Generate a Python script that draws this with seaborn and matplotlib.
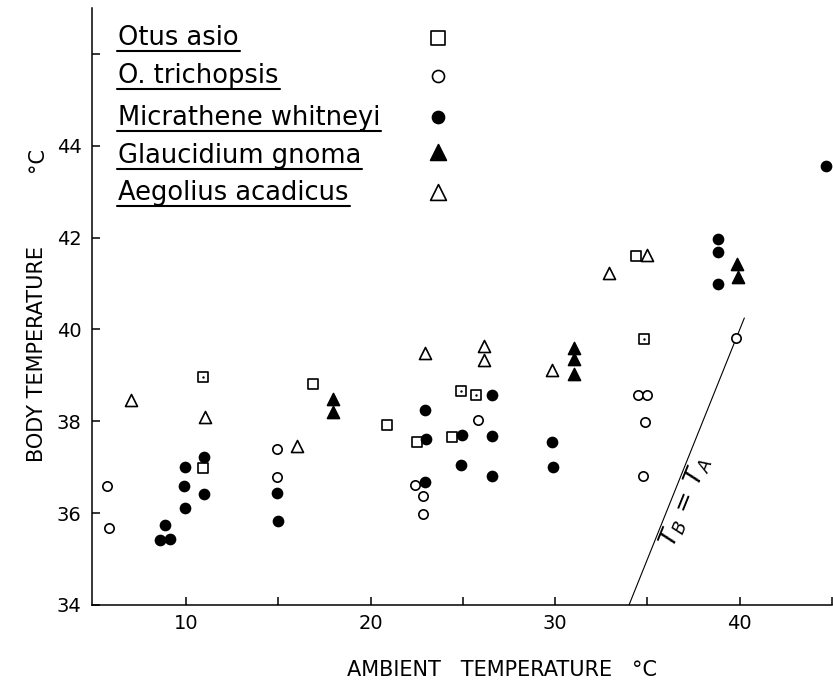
import matplotlib
matplotlib.use("Agg")
import matplotlib.pyplot as plt
import seaborn as sns
from matplotlib.lines import Line2D

# 数据：从原图读取 (环境温度, 体温)
species = ["Otus asio", "O. trichopsis", "Micrathene whitneyi",
           "Glaucidium gnoma", "Aegolius acadicus"]

asio_x = [10.9, 10.9, 16.9, 20.9, 22.5, 24.4, 24.9, 25.7, 34.4, 34.8]
asio_y = [38.96, 36.98, 38.82, 37.91, 37.55, 37.65, 38.65, 38.57, 41.61, 39.80]
asio_dot = [True, False, False, False, False, False, True, True, False, True]

trich_x = [5.7, 5.8, 14.9, 14.9, 22.4, 22.85, 22.85, 25.8, 34.5, 35.0, 34.85, 34.75, 39.8]
trich_y = [36.60, 35.67, 37.39, 36.78, 36.62, 36.38, 35.98, 38.02, 38.58, 38.58, 37.98, 36.80, 39.82]

micr_x = [8.85, 8.6, 9.15, 9.95, 9.9, 9.95, 10.95, 10.95, 14.95, 15.0,
          22.95, 23.0, 22.95, 24.95, 24.9, 26.6, 26.6, 26.6, 29.85, 29.9,
          38.8, 38.8, 38.8, 44.7]
micr_y = [35.75, 35.41, 35.43, 37.00, 36.60, 36.12, 37.22, 36.41, 36.43, 35.84,
          38.24, 37.62, 36.68, 37.71, 37.04, 38.58, 37.67, 36.80, 37.55, 37.00,
          41.98, 41.68, 41.00, 43.55]

glau_x = [17.95, 17.95, 31.0, 31.0, 31.0, 39.85, 39.9]
glau_y = [38.48, 38.20, 39.60, 39.36, 39.02, 41.43, 41.14]

aego_x = [7.0, 11.0, 16.0, 22.95, 26.15, 26.15, 29.85, 32.9, 35.0]
aego_y = [38.46, 38.09, 37.46, 39.48, 39.64, 39.34, 39.11, 41.22, 41.62]

# T_B = T_A 线
line_x = [34.0, 40.25]
line_y = [34.0, 40.25]

xticks = [10, 15, 20, 25, 30, 35, 40, 45]
xtick_labels = ["10", "", "20", "", "30", "", "40", ""]
yticks = [34, 36, 38, 40, 42, 44, 46]
ytick_labels = ["34", "36", "38", "40", "42", "44", ""]

W, H = 833, 681

sns.set_theme(style="ticks")
plt.rcParams['font.family'] = ['DejaVu Sans']
plt.rcParams.update({"text.color": "black", "axes.labelcolor": "black",
                     "xtick.color": "black", "ytick.color": "black"})

fig = plt.figure(figsize=(W / 100, H / 100), dpi=100)
ax = fig.add_axes([92 / W, 1 - 605 / H, (832 - 92) / W, (605 - 8) / H])

# 每个物种的标记样式
styles = [
    ("s", "white", 52),
    ("o", "white", 45),
    ("o", "black", 52),
    ("^", "black", 75),
    ("^", "white", 75),
]
series = [(asio_x, asio_y), (trich_x, trich_y), (micr_x, micr_y),
          (glau_x, glau_y), (aego_x, aego_y)]

for (xs, ys), (mk, fc, sz) in zip(series, styles):
    sns.scatterplot(x=xs, y=ys, marker=mk, s=sz, facecolor=fc,
                    edgecolor="black", linewidth=1.2, ax=ax,
                    legend=False, zorder=3, clip_on=False)

# 带中心点的方块
dot_x = [x for x, d in zip(asio_x, asio_dot) if d]
dot_y = [y for y, d in zip(asio_y, asio_dot) if d]
sns.scatterplot(x=dot_x, y=dot_y, marker="o", s=3, color="black",
                edgecolor="black", linewidth=0, ax=ax, legend=False, zorder=4)

ax.plot(line_x, line_y, color="black", lw=0.8)
ax.text(37.05, 36.25, r"$T_B\,=\,T_A$", rotation=68, rotation_mode="anchor",
        ha="center", va="center", fontsize=18, color="black")

ax.set_xlim(4.9, 45.0)
ax.set_ylim(34, 47)
ax.set_xticks(xticks)
ax.set_xticklabels(xtick_labels)
ax.set_yticks(yticks)
ax.set_yticklabels(ytick_labels)
ax.tick_params(direction="in", length=6, width=1.1, labelsize=14, colors="black")
ax.tick_params(axis="x", pad=6.5)
ax.tick_params(axis="y", pad=7.5)
for side in ["top", "right"]:
    ax.spines[side].set_visible(False)
for side in ["left", "bottom"]:
    ax.spines[side].set_linewidth(1.1)
    ax.spines[side].set_color("black")

# 坐标轴标题
fig.text(502 / W, 1 - 669.5 / H, "AMBIENT   TEMPERATURE   °C",
         ha="center", va="center", fontsize=15)
fig.text(37 / W, 1 - 353.5 / H, "BODY TEMPERATURE", rotation=90,
         ha="center", va="center", fontsize=15)
fig.text(37 / W, 1 - 160 / H, "°C", rotation=90,
         ha="center", va="center", fontsize=15)

# 手工图例：下划线文字 + 右侧标记
leg_base = [45, 83, 125, 163, 200]
leg_mark_y = [38, 76, 117, 152, 192]
leg_sizes = [90, 75, 75, 130, 130]
texts = []
for name, yb in zip(species, leg_base):
    t = fig.text(118 / W, 1 - yb / H, name, ha="left", va="baseline",
                 fontsize=18.5)
    texts.append(t)
for (mk, fc, _), ym, sz in zip(styles, leg_mark_y, leg_sizes):
    ax.scatter([438 / W], [1 - ym / H], marker=mk, s=sz, facecolor=fc,
               edgecolor="black", linewidth=1.2, transform=fig.transFigure,
               clip_on=False, zorder=5)

fig.canvas.draw()
renderer = fig.canvas.get_renderer()
for t, yb in zip(texts, leg_base):
    bb = t.get_window_extent(renderer)
    yl = 1 - (yb + 6) / H
    fig.add_artist(Line2D([(bb.x0 - 1) / W, (bb.x1 + 1) / W], [yl, yl],
                          color="black", lw=1.5, transform=fig.transFigure))

fig.savefig("out.png", dpi=100)
plt.close(fig)
